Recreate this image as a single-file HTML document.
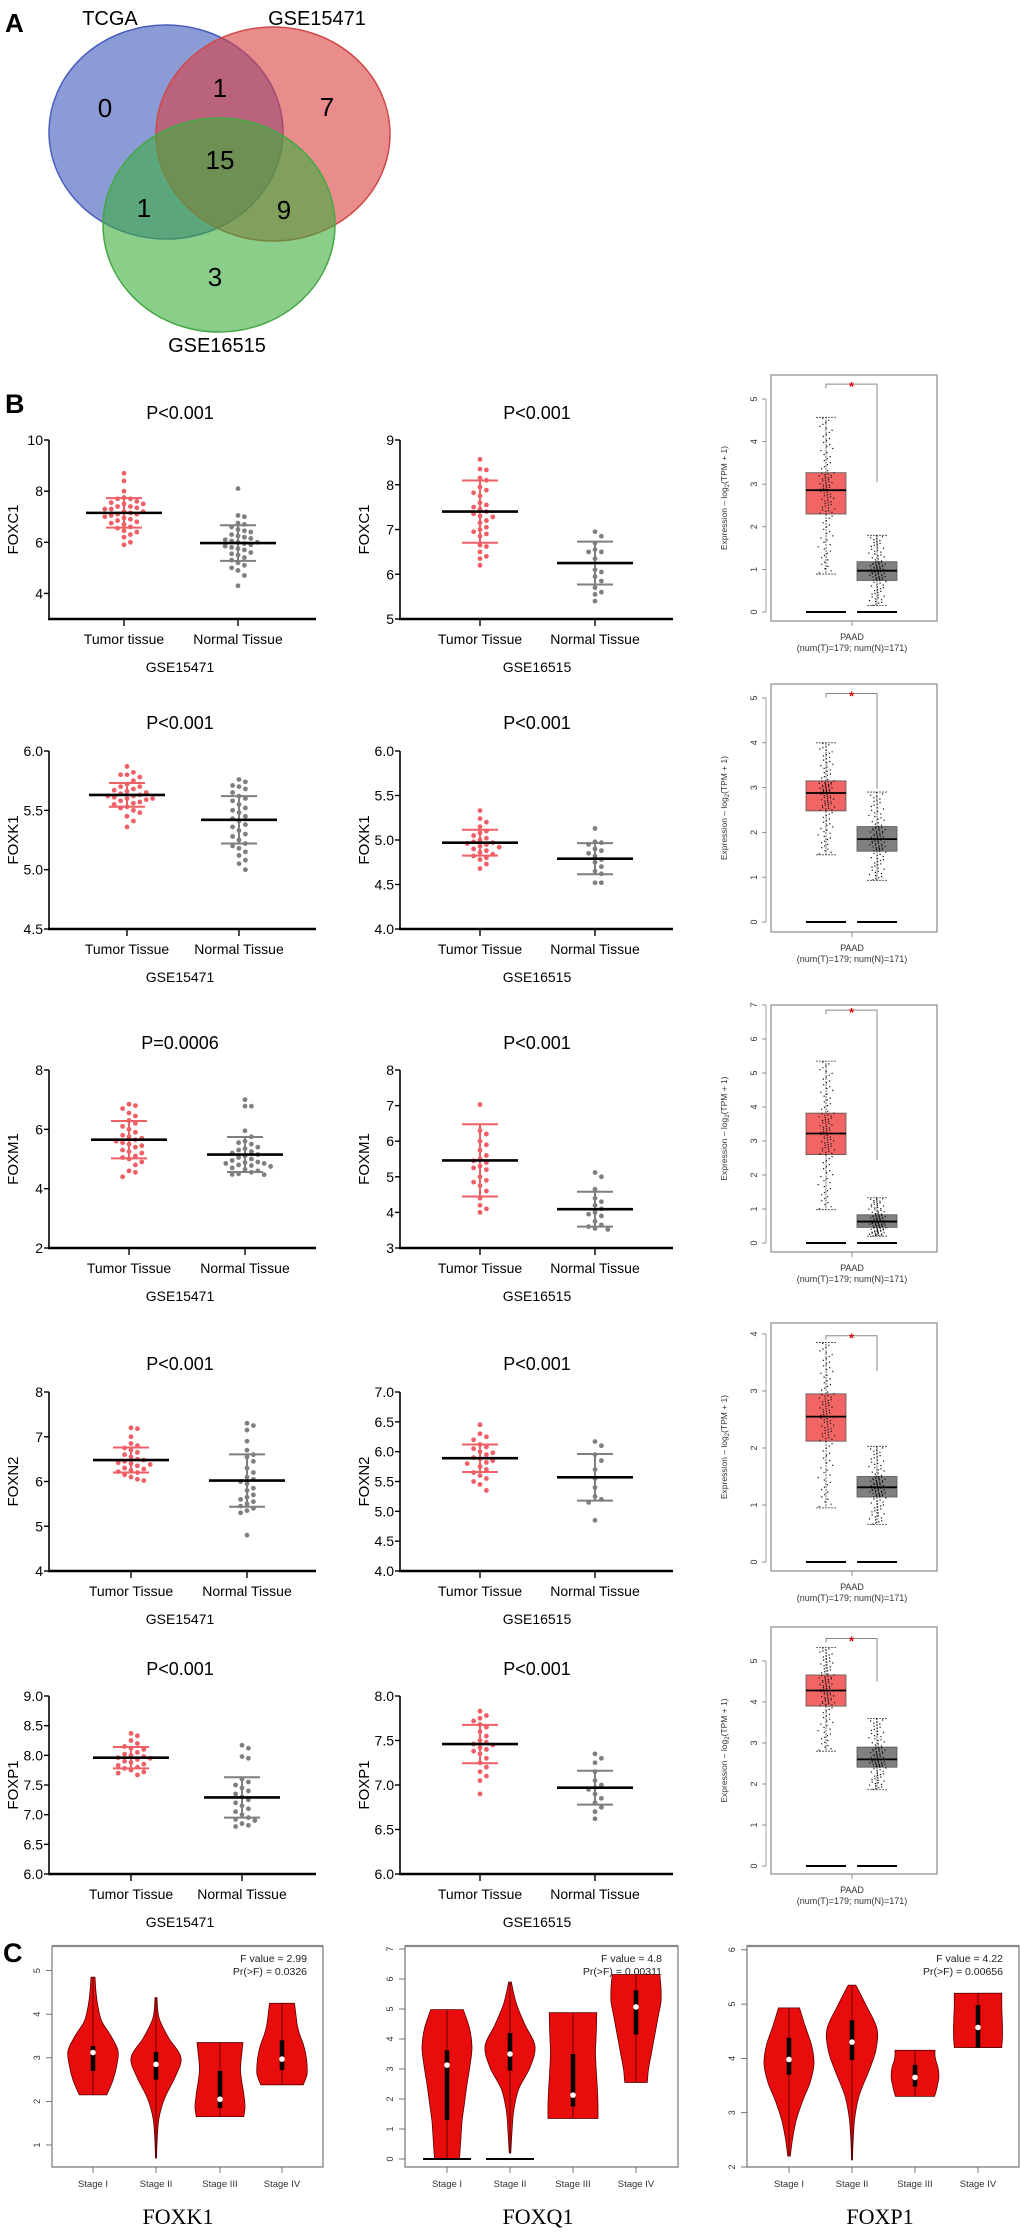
<!DOCTYPE html>
<html><head><meta charset="utf-8"><title>Figure</title>
<style>
html,body{margin:0;padding:0;background:#fff;}
svg{display:block;font-family:"Liberation Sans",Arial,sans-serif;}
</style></head>
<body>
<svg id="fig" xmlns="http://www.w3.org/2000/svg" width="1020" height="2233" viewBox="0 0 1020 2233">
<rect x="0" y="0" width="1020" height="2233" fill="#fff"/>
<g>
<text x="5" y="32" font-size="26" font-weight="bold">A</text>
<ellipse cx="166" cy="132" rx="117" ry="107" fill="rgb(60,88,187)" fill-opacity="0.6" stroke="#4a5dbf" stroke-width="1.5"/>
<ellipse cx="273" cy="134" rx="117" ry="107" fill="rgb(217,63,63)" fill-opacity="0.6" stroke="#d04848" stroke-width="1.5"/>
<ellipse cx="219" cy="225" rx="116" ry="107" fill="rgb(60,173,60)" fill-opacity="0.6" stroke="#45a845" stroke-width="1.5"/>
<text x="110" y="25" font-size="20" text-anchor="middle">TCGA</text>
<text x="317" y="25" font-size="20" text-anchor="middle">GSE15471</text>
<text x="217" y="352" font-size="20" text-anchor="middle">GSE16515</text>
<g font-size="26" text-anchor="middle">
<text x="105" y="117">0</text>
<text x="220" y="97">1</text>
<text x="327" y="116">7</text>
<text x="220" y="169">15</text>
<text x="144" y="217">1</text>
<text x="284" y="219">9</text>
<text x="215" y="286">3</text>
</g>
</g>
<text x="5" y="413" font-size="27" font-weight="bold">B</text>
<text x="3" y="1962" font-size="27" font-weight="bold">C</text>
</svg>
<script>
const scGenes = ['FOXC1','FOXK1','FOXM1','FOXN2','FOXP1'];
const scPTitles1 = ['P<0.001','P<0.001','P=0.0006','P<0.001','P<0.001'];
const scPTitles2 = ['P<0.001','P<0.001','P<0.001','P<0.001','P<0.001'];
const scTumorLabels1 = ['Tumor tissue','Tumor Tissue','Tumor Tissue','Tumor Tissue','Tumor Tissue'];
const scYMin1 = [3,4.5,2,4,6.0];
const scYMax1 = [10,6.0,8,8,9.0];
const scTicks1 = [['4','6','8','10'],['4.5','5.0','5.5','6.0'],['2','4','6','8'],['4','5','6','7','8'],['6.0','6.5','7.0','7.5','8.0','8.5','9.0']];
const scYMin2 = [5,4.0,3,4.0,6.0];
const scYMax2 = [9,6.0,8,7.0,8.0];
const scTicks2 = [['5','6','7','8','9'],['4.0','4.5','5.0','5.5','6.0'],['3','4','5','6','7','8'],['4.0','4.5','5.0','5.5','6.0','6.5','7.0'],['6.0','6.5','7.0','7.5','8.0']];
const scMeanT1 = [7.15,5.63,5.65,6.48,7.96];
const scSdT1 = [0.575,0.10,0.63,0.28,0.18];
const scMeanN1 = [5.97,5.42,5.15,6.02,7.29];
const scSdN1 = [0.695,0.20,0.59,0.585,0.34];
const scMeanT2 = [7.40,4.97,5.46,5.89,7.46];
const scSdT2 = [0.695,0.145,1.015,0.23,0.215];
const scMeanN2 = [6.25,4.79,4.09,5.57,6.97];
const scSdN2 = [0.48,0.175,0.49,0.39,0.19];
const scDotsT1 = [
 [8.7,8.4,8.0,7.75,7.7,7.7,7.6,7.55,7.5,7.5,7.4,7.4,7.35,7.3,7.3,7.2,7.2,7.15,7.1,7.1,7.05,7.0,6.95,6.9,6.85,6.8,6.75,6.7,6.6,6.55,6.45,6.4,6.3,6.2,6.0,5.9],
 [5.87,5.82,5.8,5.8,5.78,5.75,5.72,5.7,5.7,5.68,5.67,5.66,5.65,5.64,5.63,5.62,5.62,5.61,5.6,5.6,5.59,5.58,5.57,5.56,5.55,5.53,5.52,5.5,5.48,5.45,5.41,5.36],
 [6.85,6.8,6.7,6.55,6.45,6.3,6.2,6.1,6.0,5.9,5.8,5.75,5.7,5.65,5.6,5.55,5.5,5.45,5.4,5.3,5.25,5.2,5.1,5.05,5.0,4.9,4.8,4.6,4.55,4.4],
 [7.2,7.18,7.0,6.85,6.8,6.75,6.7,6.65,6.6,6.55,6.5,6.48,6.45,6.42,6.4,6.38,6.35,6.3,6.28,6.25,6.22,6.2,6.15,6.1,6.05,6.02],
 [8.37,8.33,8.25,8.2,8.15,8.12,8.1,8.05,8.02,8.0,7.98,7.96,7.95,7.93,7.9,7.88,7.85,7.83,7.8,7.78,7.75,7.72,7.7,7.67]
];
const scDotsN1 = [
 [8.1,7.05,7.0,6.75,6.7,6.6,6.5,6.45,6.4,6.3,6.25,6.2,6.15,6.1,6.05,6.0,6.0,5.95,5.9,5.85,5.8,5.75,5.7,5.6,5.55,5.5,5.4,5.3,5.2,5.1,5.0,4.9,4.7,4.3],
 [5.76,5.74,5.71,5.7,5.68,5.65,5.62,5.6,5.58,5.55,5.52,5.5,5.48,5.45,5.43,5.41,5.38,5.36,5.33,5.3,5.28,5.25,5.22,5.2,5.18,5.15,5.12,5.08,5.05,5.0],
 [7.0,6.78,6.78,5.95,5.75,5.6,5.55,5.5,5.4,5.35,5.3,5.25,5.2,5.15,5.1,5.05,5.0,4.95,4.9,4.88,4.85,4.85,4.8,4.78,4.75,4.7,4.65,4.6,4.55,4.5,4.48,4.47],
 [7.3,7.25,7.15,6.9,6.7,6.6,6.55,6.45,6.3,6.2,6.1,6.05,6.0,5.95,5.85,5.8,5.7,5.65,5.6,5.55,5.5,5.45,5.4,5.35,5.3,4.8],
 [8.17,8.12,7.98,7.95,7.6,7.55,7.5,7.45,7.4,7.35,7.3,7.25,7.2,7.15,7.1,7.05,7.0,6.95,6.92,6.9,6.85,6.82,6.8]
];
const scDotsT2 = [
 [8.57,8.35,8.33,8.15,8.1,7.95,7.88,7.82,7.75,7.6,7.55,7.5,7.45,7.4,7.35,7.3,7.28,7.2,7.15,7.05,7.0,6.95,6.9,6.85,6.65,6.62,6.5,6.4,6.35,6.2],
 [5.33,5.24,5.2,5.15,5.1,5.08,5.05,5.02,5.0,4.98,4.97,4.96,4.95,4.93,4.92,4.9,4.88,4.86,4.84,4.82,4.8,4.78,4.73,4.68],
 [7.03,6.3,6.2,6.0,5.9,5.75,5.6,5.5,5.45,5.4,5.3,5.25,5.2,5.0,4.9,4.85,4.75,4.6,4.4,4.2,4.1,4.0],
 [6.45,6.3,6.25,6.2,6.12,6.08,6.05,6.0,5.98,5.95,5.9,5.88,5.85,5.82,5.8,5.75,5.7,5.65,5.6,5.55,5.5,5.45,5.35],
 [7.83,7.78,7.75,7.72,7.68,7.65,7.6,7.55,7.5,7.48,7.46,7.45,7.42,7.4,7.38,7.35,7.3,7.25,7.2,7.15,7.1,7.05,6.9]
];
const scDotsN2 = [
 [6.95,6.85,6.7,6.55,6.5,6.5,6.35,6.1,6.05,5.95,5.85,5.7,5.6,5.55,5.4],
 [5.13,4.98,4.97,4.95,4.9,4.88,4.85,4.82,4.78,4.75,4.7,4.65,4.62,4.52,4.52],
 [5.12,5.0,4.65,4.4,4.3,4.2,4.1,4.0,3.95,3.9,3.75,3.65,3.6,3.55,3.52],
 [6.17,6.1,5.95,5.85,5.7,5.55,5.4,5.25,5.2,5.15,4.85],
 [7.35,7.3,7.25,7.15,7.05,7.0,6.97,6.95,6.9,6.85,6.8,6.75,6.7,6.62]
];
const bxYTicks = [['0','1','2','3','4','5'],['0','1','2','3','4','5'],['0','1','2','3','4','5','6','7'],['0','1','2','3','4'],['0','1','2','3','4','5']];
const bxTumorLo = [0.89,1.5,0.98,0.95,2.8];
const bxTumorQ1 = [2.3,2.48,2.6,2.12,3.9];
const bxTumorMed = [2.86,2.88,3.22,2.55,4.28];
const bxTumorQ3 = [3.27,3.15,3.82,2.95,4.66];
const bxTumorHi = [4.57,4.0,5.35,3.85,5.33];
const bxNormalLo = [0.15,0.93,0.2,0.66,1.86];
const bxNormalQ1 = [0.74,1.58,0.46,1.14,2.41];
const bxNormalMed = [0.97,1.85,0.63,1.31,2.6];
const bxNormalQ3 = [1.18,2.13,0.83,1.5,2.9];
const bxNormalHi = [1.8,2.9,1.33,2.03,3.6];
const bxBracket = [5.35,5.1,6.85,3.97,5.55];
const bxBracketDrop = [3.05,2.98,2.45,3.35,4.5];
const vGenes = ['FOXK1','FOXQ1','FOXP1'];
const vStages = ['Stage I','Stage II','Stage III','Stage IV'];
const vFValue = ['F value = 2.99','F value = 4.8','F value = 4.22'];
const vPValue = ['Pr(>F) = 0.0326','Pr(>F) = 0.00311','Pr(>F) = 0.00656'];
const vTicks = [['1','2','3','4','5'],['0','1','2','3','4','5','6','7'],['2','3','4','5','6']];
const vMin = [[2.15,0.7,1.65,2.38],[0,0.2,1.35,2.55],[2.2,2.13,3.3,4.2]];
const vMax = [[4.85,4.38,3.35,4.25],[4.98,5.9,4.88,6.15],[4.93,5.35,4.15,5.2]];
const vMed = [[3.12,2.85,2.05,2.97],[3.13,3.5,2.13,5.07],[3.98,4.3,3.65,4.57]];
const vQ1 = [[2.7,2.5,1.85,2.72],[1.3,2.95,1.75,4.15],[3.7,3.97,3.48,4.2]];
const vQ3 = [[3.27,3.13,2.7,3.4],[3.62,4.2,3.5,5.62],[4.38,4.7,3.88,4.98]];
const vZeroBar = [[false,false,false,false],[true,true,false,false],[false,false,false,false]];
const vWidths = [
 [[0.55,0.8,0.95,1.0,0.72,0.35,0.2,0.12,0.08],[0.02,0.05,0.12,0.35,0.75,1.0,0.5,0.12,0.04],[0.95,1.0,0.97,0.92,0.86,0.82,0.84,0.88,0.92],[0.85,1.0,1.0,0.95,0.85,0.7,0.6,0.55,0.5]],
 [[0.5,0.55,0.6,0.7,0.8,0.92,1.0,0.9,0.65],[0.03,0.08,0.15,0.35,0.8,1.0,0.6,0.25,0.05],[1.0,1.0,0.98,0.95,0.92,0.9,0.92,0.94,0.95],[0.45,0.5,0.6,0.7,0.8,0.9,1.0,1.0,0.95]],
 [[0.05,0.15,0.3,0.55,0.85,1.0,0.9,0.65,0.42],[0.02,0.05,0.12,0.3,0.65,0.95,1.0,0.6,0.15],[0.78,0.85,0.9,0.95,0.95,0.92,0.85,0.8,0.8],[0.95,0.97,0.98,0.98,0.97,0.96,0.95,0.95,0.95]]
];

const NS='http://www.w3.org/2000/svg';
const svg=document.getElementById('fig');
function el(tag,attrs,parent){const e=document.createElementNS(NS,tag);for(const k in attrs)e.setAttribute(k,attrs[k]);(parent||svg).appendChild(e);return e;}
function txt(s,attrs,parent){const t=el('text',attrs,parent);t.textContent=s;return t;}
const rowY=[[440,619],[751,929],[1070,1248],[1392,1571],[1696,1874]];
const titleY=[419,729,1049,1370,1675];
const col1T=[124,127,129,131,131], col1N=[238,239,245,247,242];
const cols=[{ax:49,end:316,tc:180},{ax:400,end:673,tc:537}];
const RED='#ef5f66', GRAY='#7f7f7f';
const DOT_R=2.4;

function beeswarm(vals, ymap, r){
  const placed=[]; const out=[];
  const sorted=vals.map((v,i)=>({v,i})).sort((a,b)=>b.v-a.v);
  for(const d of sorted){
    const y=ymap(d.v); let k=0, x=0;
    while(true){
      const offs = k===0?[0]:[k*(2*r+1.6),-k*(2*r+1.6)];
      let ok=null;
      for(const o of offs){ if(placed.every(p=>Math.hypot(p.x-o,p.y-y)>=2*r+1.2)){ok=o;break;} }
      if(ok!==null){x=ok;break;} k++;
    }
    placed.push({x,y}); out.push({x,y,v:d.v});
  }
  return out;
}

function scatterPanel(row,col){
  const c=cols[col]; const [yTop,yBot]=rowY[row];
  const yMin= col===0?scYMin1[row]:scYMin2[row];
  const yMax= col===0?scYMax1[row]:scYMax2[row];
  const ticks= col===0?scTicks1[row]:scTicks2[row];
  const yScale=v=> yBot-(v-yMin)/(yMax-yMin)*(yBot-yTop);
  const g=el('g',{});
  
  
  const t=txt(col===0?scPTitles1[row]:scPTitles2[row],{x:c.tc,y:titleY[row],'font-size':18,'text-anchor':'middle'},g);
  
  
  const ya=el('line',{x1:c.ax,y1:yTop,x2:c.ax,y2:yBot,stroke:'#000','stroke-width':1.6},g);
  
  
  const xa=el('line',{x1:c.ax-1,y1:yBot,x2:c.end,y2:yBot,stroke:'#000','stroke-width':2.6},g);
  
  
  ticks.forEach(s=>{
    const y=yScale(parseFloat(s));
    el('line',{x1:c.ax-5,y1:y,x2:c.ax,y2:y,stroke:'#000','stroke-width':1.4},g);
    const tl=txt(s,{x:c.ax-6,y:y+5,'font-size':14,'text-anchor':'end'},g);
    
    
  });
  const yl=txt(scGenes[row],{x:0,y:0,'font-size':15,'text-anchor':'middle',transform:`translate(${c.ax-31},${(yTop+yBot)/2}) rotate(-90)`},g);
  
  
  const tx= col===0?col1T[row]:480, nx= col===0?col1N[row]:595;
  [[tx, col===0?scTumorLabels1[row]:'Tumor Tissue'],[nx,'Normal Tissue']].forEach(([x,s])=>{
    el('line',{x1:x,y1:yBot,x2:x,y2:yBot+7,stroke:'#000','stroke-width':1.4},g);
    const xl=txt(s,{x:x,y:yBot+25,'font-size':14,'text-anchor':'middle'},g);
    
    
  });
  const gl=txt(col===0?'GSE15471':'GSE16515',{x:c.tc,y:yBot+53,'font-size':14,'text-anchor':'middle'},g);
  
  
  const groups=[
    {x:tx,color:RED,dots:col===0?scDotsT1[row]:scDotsT2[row],mean:col===0?scMeanT1[row]:scMeanT2[row],sd:col===0?scSdT1[row]:scSdT2[row],name:'tumor'},
    {x:nx,color:GRAY,dots:col===0?scDotsN1[row]:scDotsN2[row],mean:col===0?scMeanN1[row]:scMeanN2[row],sd:col===0?scSdN1[row]:scSdN2[row],name:'normal'}
  ];
  groups.forEach(gr=>{
    const pts=beeswarm(gr.dots,yScale,DOT_R);
    pts.forEach(p=>{
      const d=el('circle',{cx:gr.x+p.x,cy:p.y,r:DOT_R,fill:gr.color},g);
      
      
    });
    const hi=yScale(gr.mean+gr.sd), lo=yScale(gr.mean-gr.sd), m=yScale(gr.mean);
    const eb=el('path',{d:`M${gr.x},${hi}V${lo}M${gr.x-18},${hi}H${gr.x+18}M${gr.x-18},${lo}H${gr.x+18}`,stroke:gr.color,'stroke-width':2,fill:'none'},g);
    
    
    const ml=el('line',{x1:gr.x-38,y1:m,x2:gr.x+38,y2:m,stroke:'#000','stroke-width':2.6},g);
    
    
  });
}
for(let r=0;r<5;r++){scatterPanel(r,0);scatterPanel(r,1);}

const bxFrame=[[375,621],[684,932],[1005,1252],[1323,1571],[1627,1874]];
const bxZero=[612,922,1243,1562,1866];
const bxPPU=[42.6,44.8,34,57,41];
const BX0=771,BX1=937,TX=826,NX=877,HW=20;
function quant(p,lo,q1,md,q3,hi){
  const k=[lo,q1,md,q3,hi]; const s=p*4; const i=Math.min(3,Math.floor(s)); const f=s-i;
  return k[i]+(k[i+1]-k[i])*f;
}
for(let r=0;r<5;r++){
  const yS=v=>bxZero[r]-v*bxPPU[r];
  const g=el('g',{});
  
  
  const [ft,fb]=bxFrame[r];
  const fr=el('rect',{x:BX0,y:ft,width:BX1-BX0,height:fb-ft,fill:'none',stroke:'#888','stroke-width':1.2},g);
  
  
  const tks=bxYTicks[r];
  el('line',{x1:BX0-5,y1:yS(0),x2:BX0-5,y2:yS(parseFloat(tks[tks.length-1])),stroke:'#888','stroke-width':0.8},g);
  tks.forEach(s=>{
    const y=yS(parseFloat(s));
    el('line',{x1:BX0-9,y1:y,x2:BX0-5,y2:y,stroke:'#777','stroke-width':0.8},g);
    const tl=txt(s,{x:0,y:0,'font-size':9,'text-anchor':'middle',fill:'#333',transform:`translate(${BX0-14},${y}) rotate(-90)`},g);
    
    
  });
  const yl=el('text',{x:0,y:0,'font-size':8.5,'text-anchor':'middle',fill:'#333',transform:`translate(${BX0-44},${(ft+fb)/2}) rotate(-90)`},g);
  yl.innerHTML='Expression \u2013 log<tspan font-size="6" dy="2">2</tspan><tspan dy="-2">(TPM + 1)</tspan>';
  
  
  el('line',{x1:852,y1:fb,x2:852,y2:fb+5,stroke:'#777','stroke-width':0.8},g);
  const pa=txt('PAAD',{x:852,y:fb+19,'font-size':9,'text-anchor':'middle',fill:'#333'},g);
  
  
  const nn=txt('(num(T)=179; num(N)=171)',{x:852,y:fb+30,'font-size':9,'text-anchor':'middle',fill:'#333'},g);
  
  
  const boxes=[
    {x:TX,fill:'#f26565',lo:bxTumorLo[r],q1:bxTumorQ1[r],md:bxTumorMed[r],q3:bxTumorQ3[r],hi:bxTumorHi[r],name:'tumor'},
    {x:NX,fill:'#808080',lo:bxNormalLo[r],q1:bxNormalQ1[r],md:bxNormalMed[r],q3:bxNormalQ3[r],hi:bxNormalHi[r],name:'normal'}
  ];
  boxes.forEach((b,bi)=>{
    const zb=el('line',{x1:b.x-HW,y1:yS(0),x2:b.x+HW,y2:yS(0),stroke:'#000','stroke-width':2},g);
    
    
    const bx=el('rect',{x:b.x-HW,y:yS(b.q3),width:2*HW,height:yS(b.q1)-yS(b.q3),fill:b.fill,stroke:'#555','stroke-width':0.8},g);
    
    
    const wk=el('path',{d:`M${b.x},${yS(b.q3)}V${yS(b.hi)}M${b.x},${yS(b.q1)}V${yS(b.lo)}M${b.x-10},${yS(b.hi)}H${b.x+10}M${b.x-10},${yS(b.lo)}H${b.x+10}`,stroke:'#444','stroke-width':0.8,'stroke-dasharray':'2,1',fill:'none'},g);
    
    
    let d='';
    const n=110;
    for(let i=0;i<n;i++){
      const v=quant((i+0.5)/n,b.lo,b.q1,b.md,b.q3,b.hi);
      const u=((i*0.7548777+bi*0.31)%1), w=((i*0.5698403+0.17)%1);
      const jx=(u+w-1)*9;
      const x=b.x+jx, y=yS(v);
      d+=`M${x.toFixed(1)},${y.toFixed(1)}h1.2`;
    }
    const jp=el('path',{d:d,stroke:'#111','stroke-width':1.2,fill:'none'},g);
    
    
    const ml=el('line',{x1:b.x-HW,y1:yS(b.md),x2:b.x+HW,y2:yS(b.md),stroke:'#000','stroke-width':1.8},g);
    
    
  });
  const by=yS(bxBracket[r]);
  const br=el('path',{d:`M${TX},${by+4}V${by}H${NX}V${yS(bxBracketDrop[r])}`,stroke:'#888','stroke-width':1,fill:'none'},g);
  
  
  const st=txt('*',{x:(TX+NX)/2,y:by+7,'font-size':13,'text-anchor':'middle',fill:'#e00000','font-weight':'bold'},g);
  
  
}

const vFrameX=[[52,323],[405,678],[747,1019]];
const vTop=1946, vBot=2167;
const vZero=[2188.6,2159,2275.6];
const vPPU=[43.6,30,54.3];
const vStageX=[[93,156,220,282],[447,510,573,636],[789,852,915,978]];
const vTitleX=[178,538,880];
function smoothSide(pts){
  let d='';
  for(let i=0;i<pts.length-1;i++){
    const p0=pts[Math.max(0,i-1)],p1=pts[i],p2=pts[i+1],p3=pts[Math.min(pts.length-1,i+2)];
    const c1=[p1[0]+(p2[0]-p0[0])/6,p1[1]+(p2[1]-p0[1])/6];
    const c2=[p2[0]-(p3[0]-p1[0])/6,p2[1]-(p3[1]-p1[1])/6];
    d+=`C${c1[0].toFixed(1)},${c1[1].toFixed(1)} ${c2[0].toFixed(1)},${c2[1].toFixed(1)} ${p2[0].toFixed(1)},${p2[1].toFixed(1)}`;
  }
  return d;
}
for(let p=0;p<3;p++){
  const yS=v=>vZero[p]-v*vPPU[p];
  const g=el('g',{});
  
  
  const [x0,x1]=vFrameX[p];
  const fr=el('path',{d:`M${x0},${vTop}H${x1}V${vBot}H${x0}Z`,fill:'none',stroke:'#777','stroke-width':1.2},g);
  
  
  el('line',{x1:x0,y1:vTop,x2:x1,y2:vTop,stroke:'#888','stroke-width':2.2},g);
  vTicks[p].forEach(s=>{
    const y=yS(parseFloat(s));
    el('line',{x1:x0-6,y1:y,x2:x0,y2:y,stroke:'#555','stroke-width':0.8},g);
    const tl=txt(s,{x:0,y:0,'font-size':9,'text-anchor':'middle',fill:'#333',transform:`translate(${x0-12},${y}) rotate(-90)`},g);
    
    
  });
  const f1=txt(vFValue[p],{x:x1-16,y:vTop+16,'font-size':10.5,'text-anchor':'end',fill:'#222'},g);
  
  
  const f2=txt(vPValue[p],{x:x1-16,y:vTop+29,'font-size':10.5,'text-anchor':'end',fill:'#222'},g);
  
  
  const ti=txt(vGenes[p],{x:vTitleX[p],y:2224,'font-size':22,'text-anchor':'middle','font-family':'"Liberation Serif",serif'},g);
  
  
  for(let s=0;s<4;s++){
    const cx=vStageX[p][s];
    el('line',{x1:cx,y1:vBot,x2:cx,y2:vBot+6,stroke:'#555','stroke-width':0.8},g);
    const sl=txt(vStages[s],{x:cx,y:vBot+20,'font-size':9.5,'text-anchor':'middle',fill:'#333'},g);
    
    
    const mn=vMin[p][s], mx=vMax[p][s], ws=vWidths[p][s];
    const n=ws.length;
    const right=ws.map((w,i)=>[cx+w*25, yS(mn+(mx-mn)*i/(n-1))]);
    const left=ws.map((w,i)=>[cx-w*25, yS(mn+(mx-mn)*i/(n-1))]).reverse();
    const d=`M${cx},${right[0][1]}L${right[0][0]},${right[0][1]}`+smoothSide(right)+`L${left[0][0]},${left[0][1]}`+smoothSide(left)+'Z';
    const vp=el('path',{d:d,fill:'#e80c0c',stroke:'#5a0000','stroke-width':0.8},g);
    
    
    el('line',{x1:cx,y1:yS(mn),x2:cx,y2:yS(mx),stroke:'#400','stroke-width':0.8},g);
    const iq=el('line',{x1:cx,y1:yS(vQ1[p][s]),x2:cx,y2:yS(vQ3[p][s]),stroke:'#000','stroke-width':4.5},g);
    
    
    const md=el('circle',{cx:cx,cy:yS(vMed[p][s]),r:2.8,fill:'#fff'},g);
    
    
    if(vZeroBar[p][s]){
      const zb=el('line',{x1:cx-24,y1:yS(0),x2:cx+24,y2:yS(0),stroke:'#000','stroke-width':2},g);
      
      
    }
  }
}
</script>
</body></html>
